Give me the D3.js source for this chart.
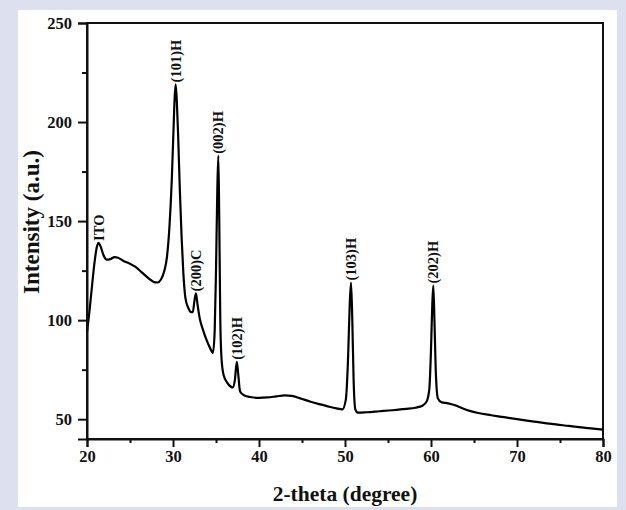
<!DOCTYPE html>
<html>
<head>
<meta charset="utf-8">
<script src="https://cdn.jsdelivr.net/npm/d3@7"></script>
<style>
  html, body { margin: 0; padding: 0; background: #dde0ef; }
  svg { display: block; }
  text { font-family: "Liberation Serif", "Times New Roman", serif; font-weight: bold; fill: #111; }
</style>
</head>
<body>
<div id="chart"></div>
<script>
// XRD pattern
const twoTheta = [20.0, 20.3, 20.6, 20.9, 21.15, 21.35, 21.6, 21.9, 22.3, 22.7, 23.2, 23.6, 24.2, 25.0, 25.6,
  26.4, 27.2, 27.8, 28.2, 28.6, 29.0, 29.3, 29.6, 29.85, 30.05, 30.2, 30.31, 30.45, 30.6, 30.8, 31.0, 31.2,
  31.45, 31.8, 32.1, 32.3, 32.5, 32.67, 32.85, 33.1, 33.5, 33.9, 34.3, 34.65, 34.85, 35.0, 35.15, 35.27,
  35.38, 35.5, 35.65, 35.9, 36.3, 36.7, 36.95, 37.2, 37.42, 37.6, 37.8, 38.3, 39, 40, 41, 42, 43, 43.8,
  44.8, 46, 47, 48, 49, 49.7, 50.1, 50.35, 50.55, 50.7, 50.85, 51.0, 51.2, 51.5, 52.5, 54, 55.5, 57, 58.2,
  59, 59.5, 59.8, 60.0, 60.15, 60.27, 60.4, 60.55, 60.8, 61.2, 62, 62.8, 63.5, 64.5, 65.5, 67, 68.5, 70,
  72, 74, 76, 78, 80];
const intensity = [94, 105, 118, 130, 137, 139, 137, 133, 130.5, 130.8, 131.8, 131.5, 130, 128.5, 127,
  124, 121, 119.2, 119, 120.5, 125, 132, 148, 170, 195, 213, 219, 210, 193, 165, 142, 124,
  111, 106, 104, 104, 110, 113.5, 108, 101, 95, 90, 86, 83.5, 95, 125, 165, 183,
  150, 100, 80, 72, 68.5, 66.5, 66, 70, 79, 72, 64, 62, 61.2, 60.8, 61, 61.5, 62, 61.8,
  60.5, 58.8, 57.6, 56.5, 55.5, 55, 60, 80, 108, 119, 100, 70, 55, 53.3, 53.5, 54, 54.5, 55.2, 55.8,
  56.8, 59, 65, 85, 108, 117.5, 100, 75, 60.5, 58.6, 58, 57, 55.8, 54.2, 53.1, 52, 51, 50,
  48.8, 47.6, 46.6, 45.6, 44.7];

// peak labels
const peakNames = ["ITO", "(101)H", "(200)C", "(002)H", "(102)H", "(103)H", "(202)H"];
const peakPos = [21.35, 30.31, 32.67, 35.27, 37.42, 50.7, 60.27];
const peakTop = [139, 219, 113.5, 183, 79, 119, 117.5];

const xTicks = [20, 30, 40, 50, 60, 70, 80];
const yTicks = [50, 100, 150, 200, 250];

const W = 626, H = 510;
const margin = { left: 87, top: 23, right: 23, bottom: 71 };

const svg = d3.select("#chart").append("svg")
  .attr("width", W)
  .attr("height", H);

svg.append("rect")
  .attr("x", 18).attr("y", 10)
  .attr("width", 599).attr("height", 497)
  .attr("fill", "#fff");

const x = d3.scaleLinear().domain([20, 80]).range([margin.left, W - margin.right]);
const y = d3.scaleLinear().domain([40, 250]).range([H - margin.bottom, margin.top]);

// frame (top + right)
svg.append("rect")
  .attr("x", x(20)).attr("y", y(250))
  .attr("width", x(80) - x(20)).attr("height", y(40) - y(250))
  .attr("fill", "none")
  .attr("stroke", "#111")
  .attr("stroke-width", 2);

// curve
const pts = twoTheta.map((t, i) => [t, intensity[i]]);
const line = d3.line()
  .x(d => x(d[0]))
  .y(d => y(d[1]))
  .curve(d3.curveMonotoneX);

svg.append("path")
  .datum(pts)
  .attr("d", line)
  .attr("fill", "none")
  .attr("stroke", "#000")
  .attr("stroke-width", 2.2)
  .attr("stroke-linejoin", "round");

// x axis
svg.append("g")
  .attr("transform", `translate(0,${y(40)})`)
  .call(d3.axisBottom(x).tickValues(xTicks).tickSize(8).tickPadding(3).tickFormat(d3.format("d")));
svg.append("g")
  .attr("transform", `translate(0,${y(40)})`)
  .call(d3.axisBottom(x).tickValues(d3.range(25, 80, 10)).tickSize(4).tickFormat(""))
  .call(g => g.select(".domain").remove());

// y axis
svg.append("g")
  .attr("transform", `translate(${x(20)},0)`)
  .call(d3.axisLeft(y).tickValues(yTicks).tickSize(9).tickPadding(6).tickFormat(d3.format("d")));
svg.append("g")
  .attr("transform", `translate(${x(20)},0)`)
  .call(d3.axisLeft(y).tickValues([75, 125, 175, 225]).tickSize(5).tickFormat(""))
  .call(g => g.select(".domain").remove());

svg.selectAll(".domain, .tick line")
  .attr("stroke", "#111")
  .attr("stroke-width", 2);
svg.selectAll(".tick text")
  .attr("fill", "#111")
  .style("font-family", "'Liberation Serif', 'Times New Roman', serif")
  .style("font-weight", "bold")
  .style("font-size", "16.5px");

// peak labels
svg.selectAll(".peak")
  .data(peakNames)
  .enter().append("text")
  .attr("class", "peak")
  .attr("transform", (d, i) => `translate(${x(peakPos[i])},${y(peakTop[i]) - 2}) rotate(-90)`)
  .attr("dy", "0.35em")
  .style("font-size", "14.5px")
  .text(d => d);

// axis titles
svg.append("text")
  .attr("x", 345)
  .attr("y", 501)
  .attr("text-anchor", "middle")
  .style("font-size", "21.5px")
  .text("2-theta (degree)");

svg.append("text")
  .attr("transform", `translate(39,222) rotate(-90)`)
  .attr("text-anchor", "middle")
  .style("font-size", "23px")
  .text("Intensity (a.u.)");
</script>
</body>
</html>
